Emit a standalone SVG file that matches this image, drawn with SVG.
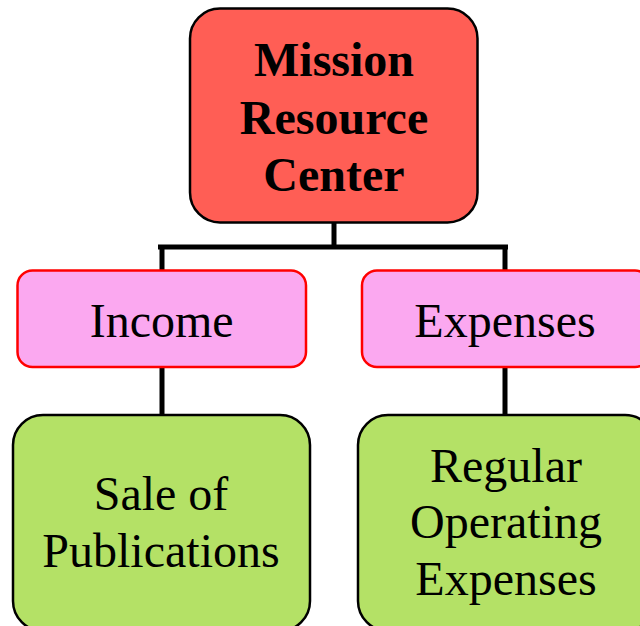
<svg xmlns="http://www.w3.org/2000/svg" width="640" height="626" viewBox="0 0 640 626">
<style>
.t{font-family:"Liberation Serif","Times New Roman",serif;font-size:48px;fill:#000;text-anchor:middle}
.b{font-weight:bold}
.top{fill:#FF5E55;stroke:#000;stroke-width:2.5}
.mid{fill:#FBA8F0;stroke:#FF0000;stroke-width:2.5}
.leaf{fill:#B4E166;stroke:#000;stroke-width:2.5}
.c{stroke:#000;stroke-width:5;fill:none}
</style>
<rect width="640" height="626" fill="#fff"/>
<g id="connectors">
<path class="c" d="M334 222V247M158 247H508M162 247V271M505 247V271M162 367V415M505 367V415"/>
</g>
<g id="mission">
<rect class="top" x="190" y="8.5" width="287.5" height="214" rx="30"/>
<text class="t b" x="334" y="76">Mission</text>
<text class="t b" x="334" y="134">Resource</text>
<text class="t b" x="334" y="191">Center</text>
</g>
<g id="income">
<rect class="mid" x="17.5" y="270.5" width="288.5" height="96.5" rx="15"/>
<text class="t" x="161.7" y="337">Income</text>
</g>
<g id="expenses">
<rect class="mid" x="362" y="270.5" width="288" height="96.5" rx="15"/>
<text class="t" x="505" y="337">Expenses</text>
</g>
<g id="sale">
<rect class="leaf" x="13" y="415" width="297" height="216" rx="30"/>
<text class="t" x="161" y="510">Sale of</text>
<text class="t" x="161" y="567">Publications</text>
</g>
<g id="regular">
<rect class="leaf" x="358" y="415" width="297" height="216" rx="30"/>
<text class="t" x="506" y="482">Regular</text>
<text class="t" x="506" y="538">Operating</text>
<text class="t" x="506" y="595">Expenses</text>
</g>
</svg>
